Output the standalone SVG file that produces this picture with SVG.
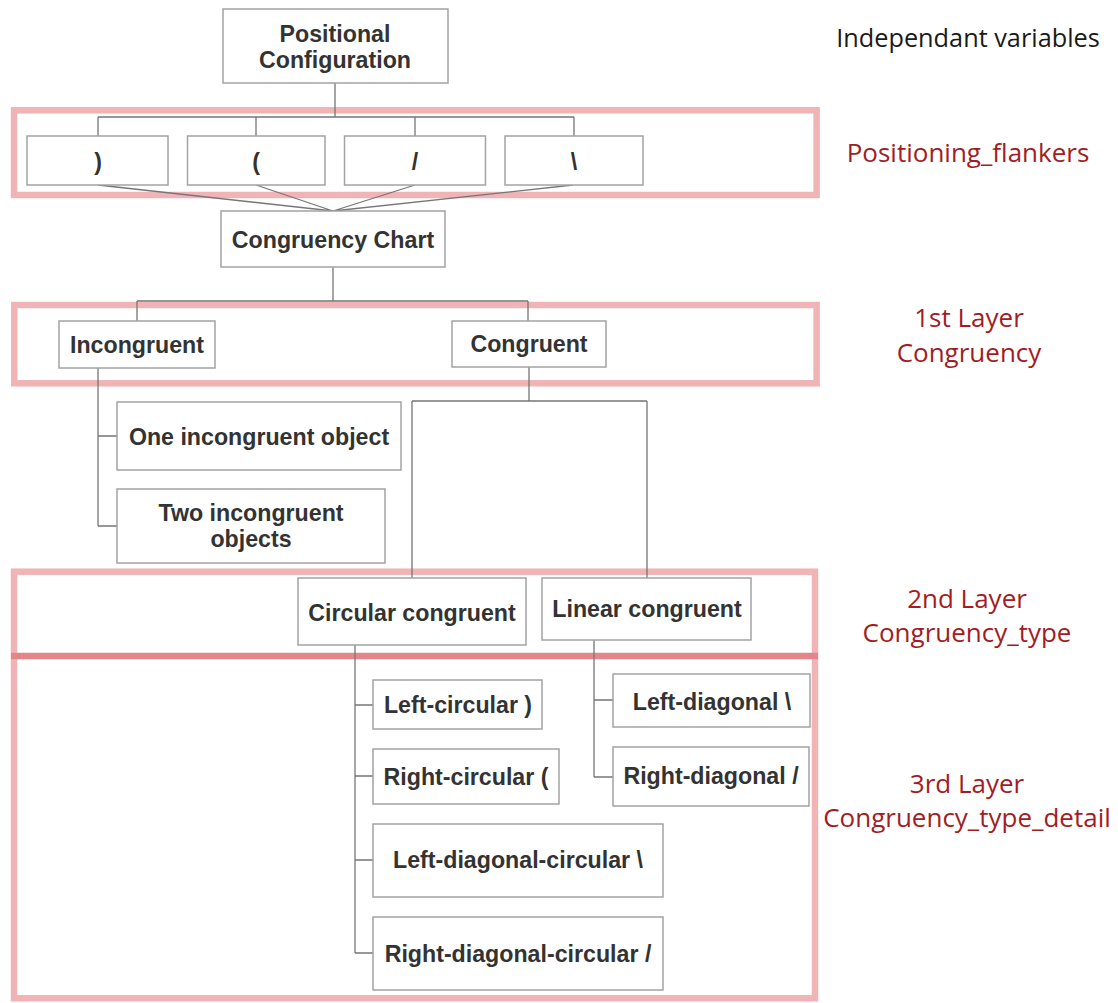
<svg xmlns="http://www.w3.org/2000/svg" width="1118" height="1003" viewBox="0 0 1118 1003">
<style>
.frame{fill:none;stroke:#f0b4b6;stroke-width:6.5}
.divider{stroke:#e3868a;stroke-width:6.5}
.box{fill:#fff;stroke:#a3a3a3;stroke-width:1.5}
.lbl{font-family:"Liberation Sans",Arial,sans-serif;font-weight:bold;font-size:23.2px;fill:#333;text-anchor:middle}
.conn{fill:none;stroke:#767676;stroke-width:1.3}
.side{font-family:"Open Sans","Noto Sans",sans-serif;font-size:26px;text-anchor:middle}
.red{fill:#a31c23}
.blk{fill:#1a1a1a}
</style>
<rect width="1118" height="1003" fill="#fff"/>
<g id="layer-frames">
<rect class="frame" x="14" y="110.3" width="802.6" height="84.7"/>
<rect class="frame" x="14.3" y="305" width="802.3" height="78.3"/>
<rect class="frame" x="14" y="571.7" width="801" height="426.6"/>
<line class="divider" x1="11" y1="656" x2="818" y2="656"/>
</g>
<g id="connectors">
<path class="conn" d="M335 83V117M98 117H574M98 117V136M256 117V136M415 117V136M574 117V136"/>
<path class="conn" d="M98 185L333 211M256 185L333 211M415 185L333 211M573 185L333 211"/>
<path class="conn" d="M333 267V301M137 301H528M137 301V321M528 301V321"/>
<path class="conn" d="M98 368V526M98 436H117M98 526H117"/>
<path class="conn" d="M529 367V401M412 401H647M412 401V578M647 401V578"/>
<path class="conn" d="M355 645V953M355 705H373M355 776H373M355 860H373M355 953H373"/>
<path class="conn" d="M594 640V777M594 700H613M594 777H613"/>
</g>
<g id="n-positional"><rect class="box" x="223" y="9" width="225" height="74"/><text class="lbl" x="335" y="42">Positional</text><text class="lbl" x="335" y="68">Configuration</text></g>
<g id="n-f1"><rect class="box" x="27" y="136" width="141" height="49"/><text class="lbl" x="98" y="170">)</text></g>
<g id="n-f2"><rect class="box" x="187.5" y="136" width="137.5" height="49"/><text class="lbl" x="256" y="170">(</text></g>
<g id="n-f3"><rect class="box" x="344.5" y="136" width="141" height="49"/><text class="lbl" x="415" y="170">/</text></g>
<g id="n-f4"><rect class="box" x="505" y="136" width="138" height="49"/><text class="lbl" x="574" y="170">\</text></g>
<g id="n-chart"><rect class="box" x="221" y="211" width="224" height="56"/><text class="lbl" x="333" y="248">Congruency Chart</text></g>
<g id="n-incongruent"><rect class="box" x="59" y="321" width="156" height="47"/><text class="lbl" x="137" y="353">Incongruent</text></g>
<g id="n-congruent"><rect class="box" x="452" y="321" width="154" height="46"/><text class="lbl" x="529" y="352">Congruent</text></g>
<g id="n-one"><rect class="box" x="117" y="402" width="284" height="68"/><text class="lbl" x="259" y="445">One incongruent object</text></g>
<g id="n-two"><rect class="box" x="117" y="489" width="268" height="74"/><text class="lbl" x="251" y="521">Two incongruent</text><text class="lbl" x="251" y="547">objects</text></g>
<g id="n-circular"><rect class="box" x="298" y="578" width="228" height="67"/><text class="lbl" x="412" y="621">Circular congruent</text></g>
<g id="n-linear"><rect class="box" x="542" y="578" width="209" height="62"/><text class="lbl" x="647" y="617">Linear congruent</text></g>
<g id="n-lc"><rect class="box" x="373" y="680" width="169" height="49"/><text class="lbl" x="458" y="713">Left-circular )</text></g>
<g id="n-rc"><rect class="box" x="373" y="749" width="186" height="55"/><text class="lbl" x="466" y="785">Right-circular (</text></g>
<g id="n-ldc"><rect class="box" x="373" y="824" width="290" height="73"/><text class="lbl" x="518" y="868">Left-diagonal-circular \</text></g>
<g id="n-rdc"><rect class="box" x="373" y="917" width="290" height="73"/><text class="lbl" x="518" y="962">Right-diagonal-circular /</text></g>
<g id="n-ld"><rect class="box" x="613" y="674" width="197" height="53"/><text class="lbl" x="712" y="710">Left-diagonal \</text></g>
<g id="n-rd"><rect class="box" x="613" y="747" width="196" height="59"/><text class="lbl" x="711" y="784">Right-diagonal /</text></g>
<g id="side-labels">
<text class="side blk" x="968" y="47" style="font-size:25.3px">Independant variables</text>
<text class="side red" x="968" y="162">Positioning_flankers</text>
<text class="side red" x="969" y="327">1st Layer</text>
<text class="side red" x="969" y="362">Congruency</text>
<text class="side red" x="967" y="608">2nd Layer</text>
<text class="side red" x="967" y="642">Congruency_type</text>
<text class="side red" x="967" y="793">3rd Layer</text>
<text class="side red" x="967" y="827">Congruency_type_detail</text>
</g>
</svg>
